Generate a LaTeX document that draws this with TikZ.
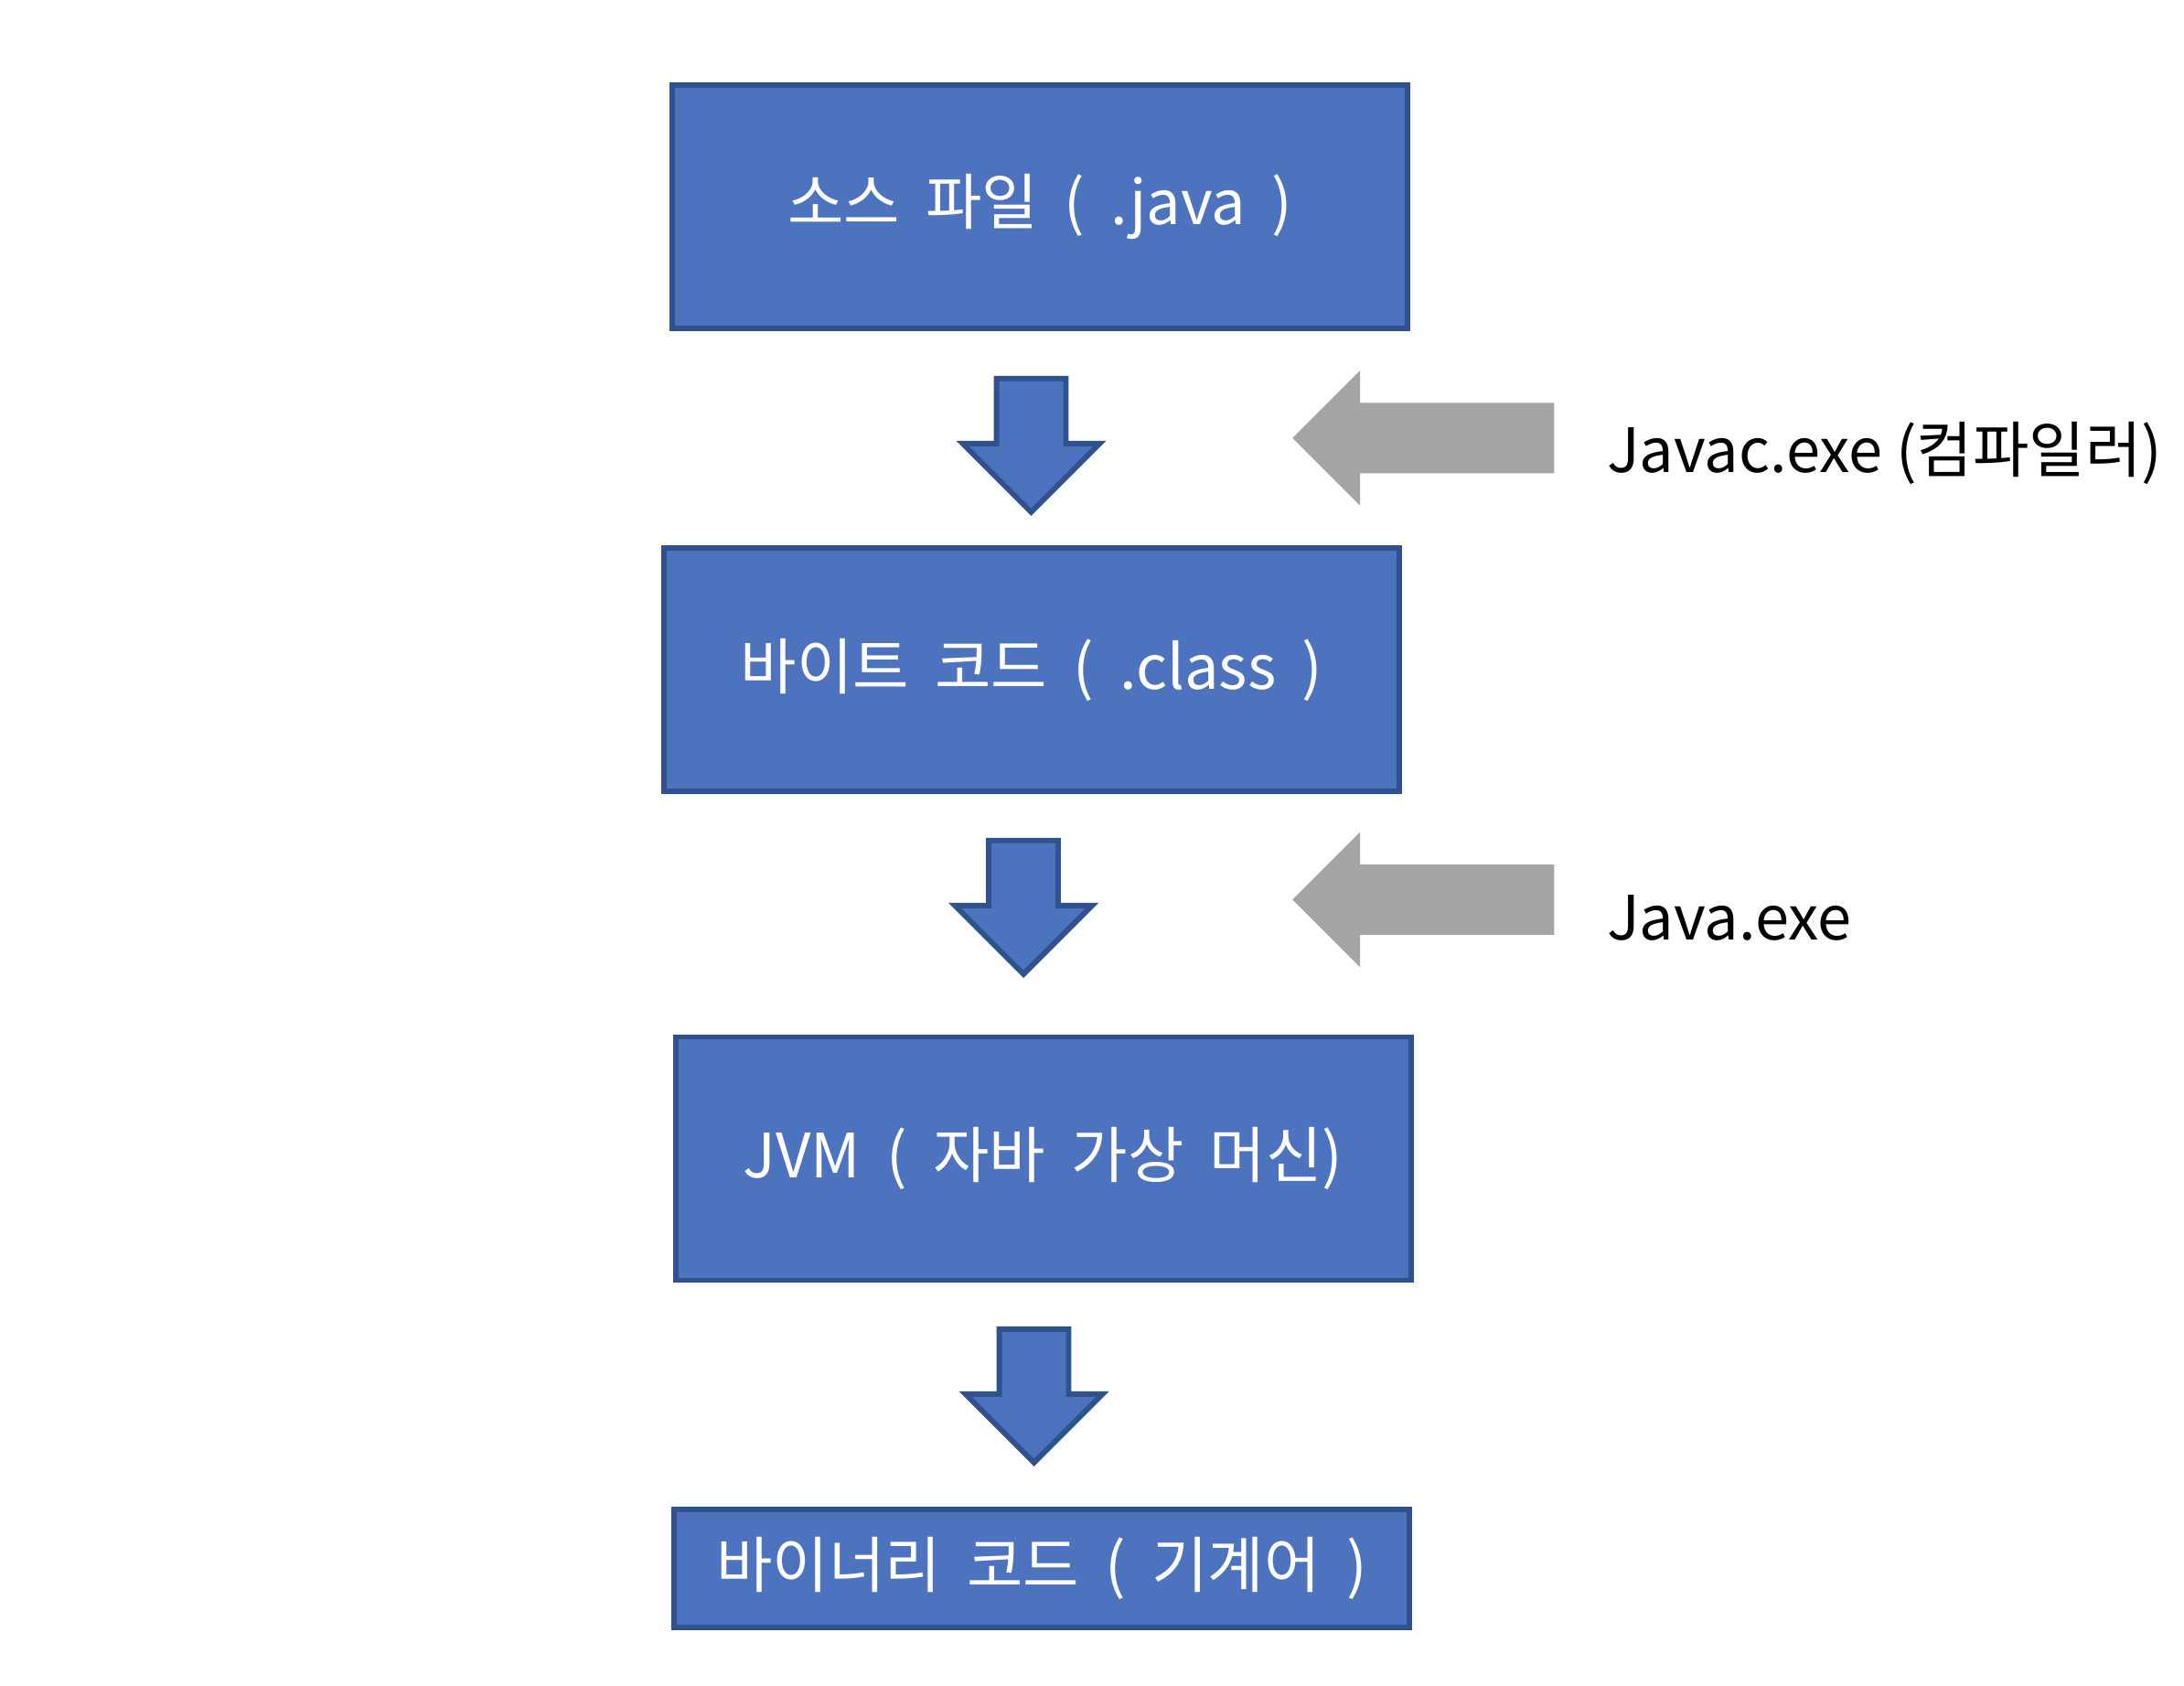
\documentclass[tikz,border=0pt]{standalone}
\usepackage{fontspec}
\setmainfont{Noto Sans CJK KR}
\newfontfamily\boxfont[WordSpace=1.9]{Noto Sans CJK KR}
\usepackage{tikz}
\usetikzlibrary{shapes.arrows,positioning}
\definecolor{boxblue}{HTML}{4E73BE}
\definecolor{edgeblue}{HTML}{2F528F}
\definecolor{arrowgray}{HTML}{A5A5A5}

\begin{document}
\begin{tikzpicture}[line width=1.7pt, font=\fontsize{19}{23}\selectfont]
   \useasboundingbox (0,0) rectangle (23.88,18.42);
   \begin{scope}[every node/.style={rectangle,draw=edgeblue,fill=boxblue,text=white,font=\boxfont\fontsize{19}{23}\selectfont,minimum width=8.04cm,minimum height=2.66cm,inner sep=0pt}]
    \node (src) at (11.37,16.16) {소스 파일 ( .java )};
    \node (byte) at (11.28,11.095) {바이트 코드 ( .class )};
    \node (jvm) at (11.405,5.755) {JVM ( 자바 가상 머신)};
    \node (bin) [minimum height=1.29cm] at (11.39,1.275) {바이너리 코드 ( 기계어 )};
   \end{scope}
   \begin{scope}[every node/.style={single arrow,draw=edgeblue,fill=boxblue,shape border rotate=270,minimum height=1.46cm,minimum width=1.45cm,single arrow head extend=0.37cm,inner xsep=0.35cm,inner ysep=0pt,anchor=tip}]
    \node (a1) at (11.275,12.78) {};
    \node (a2) at (11.19,7.73) {};
    \node (a3) at (11.305,2.39) {};
   \end{scope}
   \begin{scope}[every node/.style={single arrow,fill=arrowgray,shape border rotate=180,minimum height=2.86cm,minimum width=1.42cm,single arrow head extend=0.355cm,inner xsep=0pt,inner ysep=0.355cm,anchor=tip}]
    \node (g1) at (14.09,13.63) {};
    \node (g2) at (14.09,8.585) {};
   \end{scope}
   \node (l1) [anchor=base west,inner sep=0pt] at (17.54,13.25) {Javac.exe (컴파일러)};
   \node (l2) [anchor=base west,inner sep=0pt] at (17.54,8.14) {Java.exe};
\end{tikzpicture}
\end{document}
